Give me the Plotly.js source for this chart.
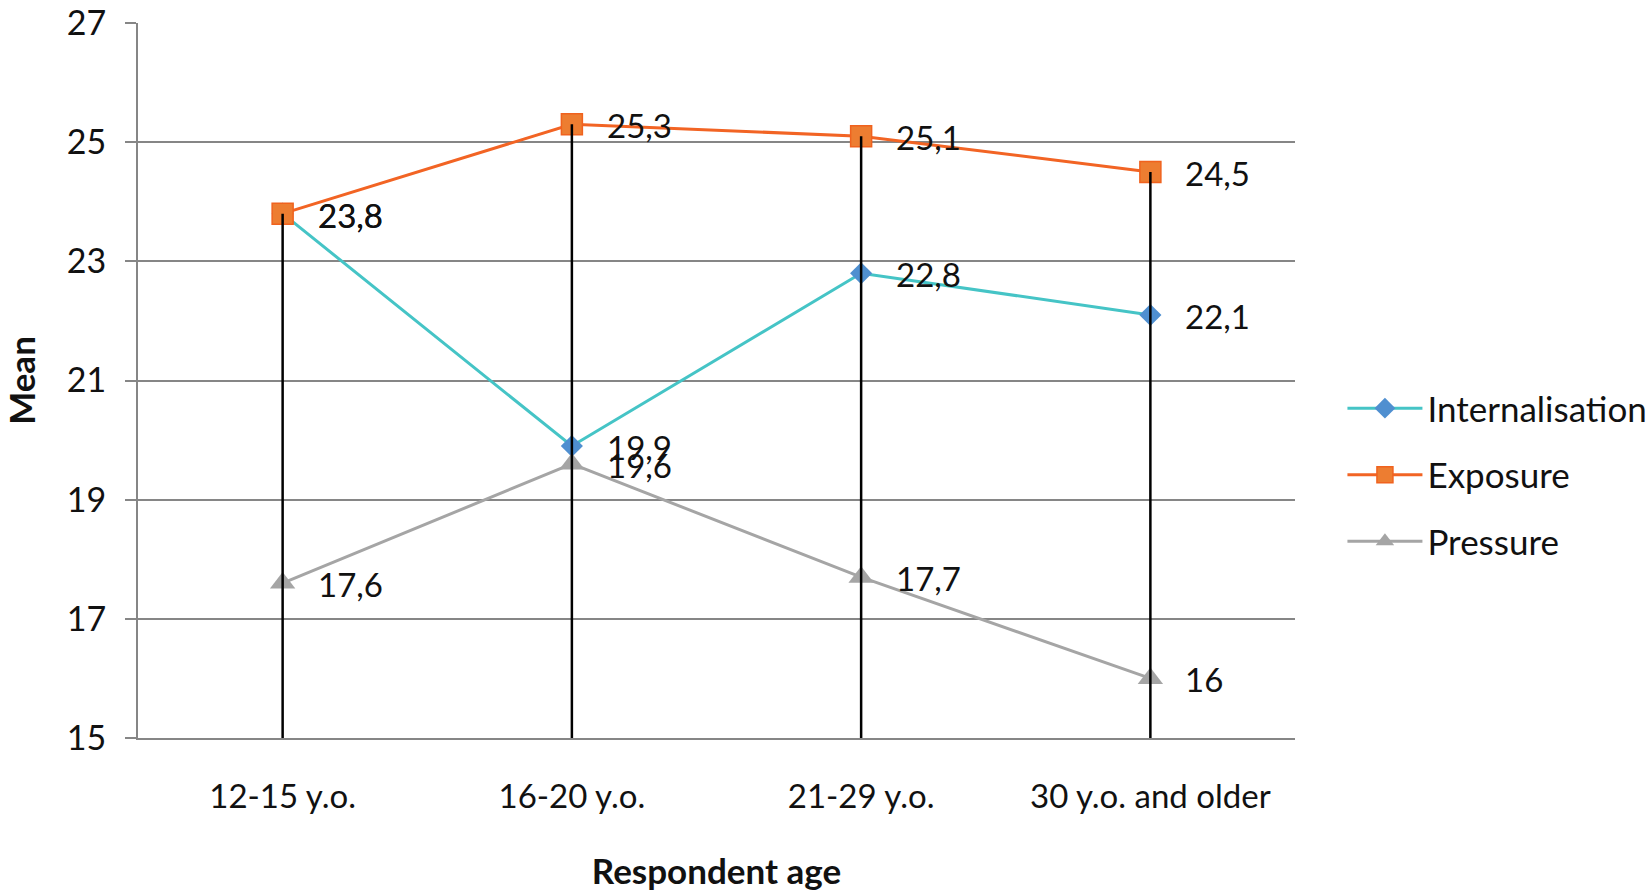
<!DOCTYPE html>
<html>
<head>
<meta charset="utf-8">
<script src="https://cdn.plot.ly/plotly-3.0.1.min.js"></script>
<style>
  html, body { margin: 0; padding: 0; background: #fff; }
  #chart { width: 1650px; height: 895px; }
</style>
</head>
<body>
<div id="chart"></div>
<script>
// chart values
const ageGroups = ['12-15 y.o.', '16-20 y.o.', '21-29 y.o.', '30 y.o. and older'];
const internalisation = [23.8, 19.9, 22.8, 22.1];
const exposure = [23.8, 25.3, 25.1, 24.5];
const pressure = [17.6, 19.6, 17.7, 16];
const yTicks = [15, 17, 19, 21, 23, 25, 27];

const FONT = 'Lato, "Open Sans", sans-serif';

function series(name, values, lineColor, marker, group) {
	return {
		x: ageGroups,
		y: values,
		name: name,
		type: 'scatter',
		mode: 'lines+markers',
		legendgroup: group,
		line: {color: lineColor, width: 3},
		marker: marker,
		hoverinfo: 'x+y+name'
	};
}

let traces = [
	series('Internalisation', internalisation, '#45C4C6',
		{symbol: 'diamond', size: 17, color: '#4F8FD0', line: {width: 0}}, 'a'),
	series('Exposure', exposure, '#F26424',
		{symbol: 'square', size: 21, color: '#ED7D31', line: {color: '#F0621E', width: 1.5}}, 'b'),
	series('Pressure', pressure, '#A5A5A5',
		{symbol: 'triangle-up', size: 22, color: '#A5A5A5', line: {width: 0}}, 'c')
];

// drop lines from the highest point of each category down to the axis
let dropX = [], dropY = [];
ageGroups.forEach((g, i) => {
	let top = Math.max(internalisation[i], exposure[i], pressure[i]);
	dropX.push(g, g, null);
	dropY.push(top, yTicks[0], null);
});
traces.push({
	x: dropX, y: dropY, type: 'scatter', mode: 'lines',
	line: {color: '#000000', width: 2.5},
	showlegend: false, hoverinfo: 'skip'
});

// data labels
let annotations = [];
[internalisation, exposure, pressure].forEach(values => {
	values.forEach((v, i) => {
		annotations.push({
			x: ageGroups[i], y: v, xref: 'x', yref: 'y',
			text: String(v).replace('.', ','),
			showarrow: false, xanchor: 'left', yanchor: 'middle',
			xshift: 33, yshift: -1,
			font: {family: FONT, size: 33, color: '#111111'}
		});
	});
});

let layout = {
	width: 1650,
	height: 895,
	margin: {l: 138, r: 355, t: 23, b: 157, autoexpand: false},
	paper_bgcolor: '#ffffff',
	plot_bgcolor: '#ffffff',
	font: {family: FONT, size: 33, color: '#111111'},
	showlegend: true,
	legend: {
		x: 1.041, y: 0.368, xanchor: 'left', yanchor: 'middle',
		traceorder: 'grouped', tracegroupgap: 18,
		itemwidth: 75,
		font: {family: FONT, size: 35, color: '#111111'}
	},
	xaxis: {
		type: 'category',
		range: [-0.5, 3.5],
		showgrid: false,
		showline: true, linecolor: '#868686', linewidth: 2,
		ticks: '',
		ticklabelstandoff: 28,
		tickfont: {family: FONT, size: 33, color: '#111111'},
		title: {text: '<b>Respondent age</b>', standoff: 46,
			font: {family: FONT, size: 35, color: '#111111'}},
		zeroline: false,
		fixedrange: true
	},
	yaxis: {
		range: [15, 27],
		tickvals: yTicks,
		ticktext: yTicks.map(String),
		showgrid: true, gridcolor: '#868686', gridwidth: 2,
		showline: true, linecolor: '#868686', linewidth: 2,
		ticks: 'outside', ticklen: 11, tickcolor: '#868686', tickwidth: 2,
		ticklabelstandoff: 12,
		tickfont: {family: FONT, size: 34, color: '#111111'},
		title: {text: '<b>Mean</b>', standoff: 26,
			font: {family: FONT, size: 35, color: '#111111'}},
		zeroline: false,
		fixedrange: true
	},
	annotations: annotations
};

Plotly.newPlot('chart', traces, layout, {displayModeBar: false, staticPlot: true});
</script>
</body>
</html>
